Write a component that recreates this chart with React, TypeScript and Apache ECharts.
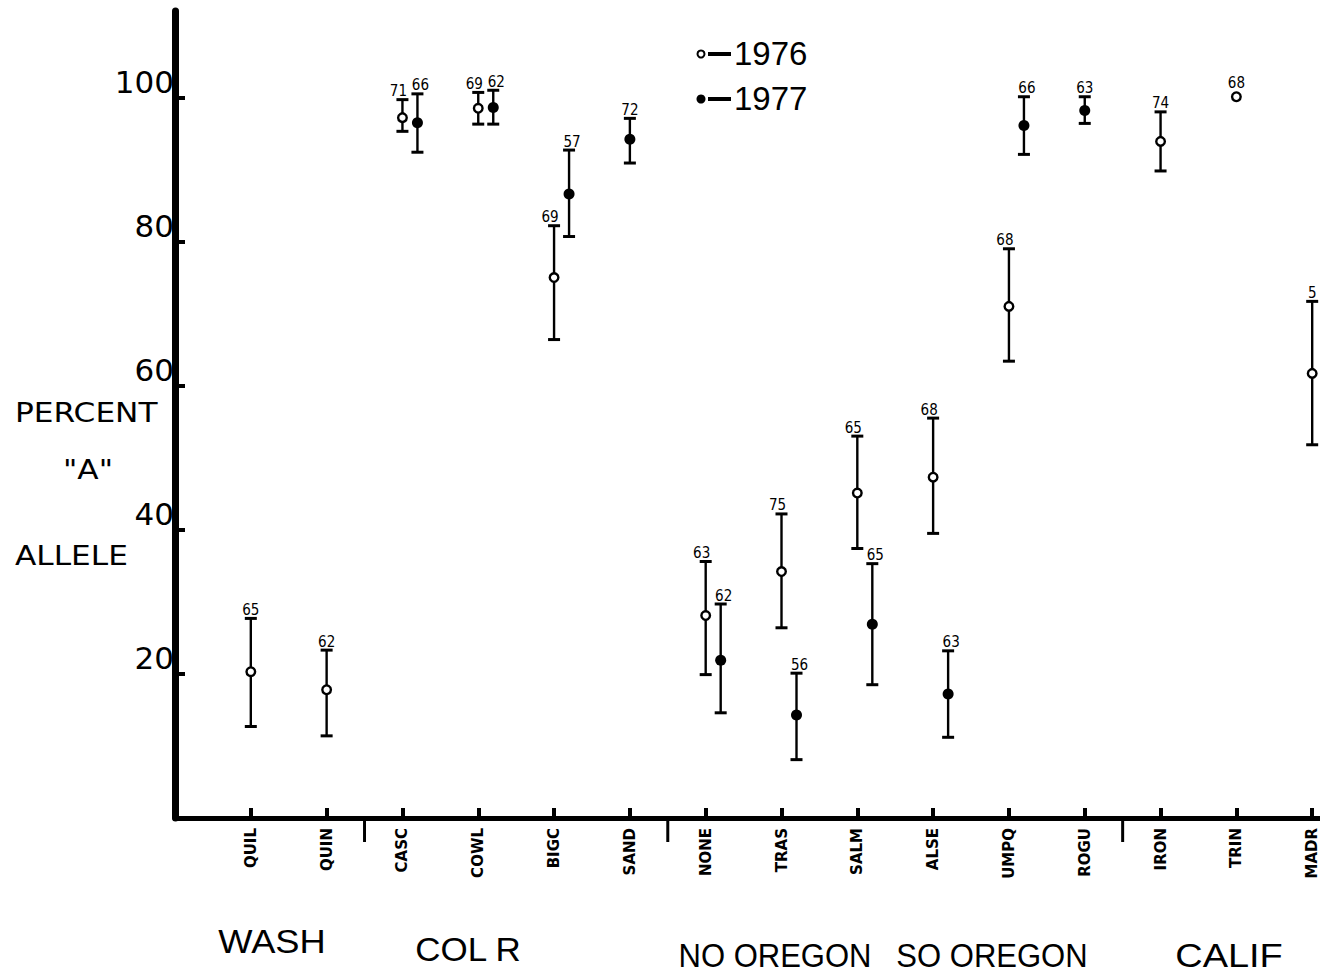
import { useEffect, useRef } from "react";
import * as echarts from "echarts";

const categories = ["QUIL", "QUIN", "CASC", "COWL", "BIGC", "SAND", "NONE", "TRAS", "SALM", "ALSE", "UMPQ", "ROGU", "IRON", "TRIN", "MADR"];
const mean1976 = [20.3, 17.8, 97.2, 98.5, 75.0, null, 28.1, 34.2, 45.1, 47.3, 71.0, null, 93.9, 100.1, 61.7];
const low1976 = [12.7, 11.4, 95.3, 96.3, 66.4, null, 19.9, 26.4, 37.4, 39.5, 63.4, null, 89.8, null, 51.8];
const high1976 = [27.7, 23.3, 99.7, 100.7, 82.2, null, 35.6, 42.2, 53.0, 55.5, 79.0, null, 98.0, null, 71.7];
const n1976 = ["65", "62", "71", "69", "69", "", "63", "75", "65", "68", "68", "", "74", "68", "5"];
const mean1977 = [null, null, 96.5, 98.6, 86.6, 94.2, 21.9, 14.3, 26.9, 17.2, 96.1, 98.2, null, null, null];
const low1977 = [null, null, 92.4, 96.3, 80.7, 90.9, 14.6, 8.1, 18.5, 11.2, 92.1, 96.4, null, null, null];
const high1977 = [null, null, 100.5, 101.0, 92.7, 97.1, 29.7, 20.1, 35.3, 23.2, 100.1, 100.1, null, null, null];
const n1977 = ["", "", "66", "62", "57", "72", "62", "56", "65", "63", "66", "63", "", "", ""];
const yTicks = [20, 40, 60, 80, 100];
const groupBreaksAfter = ["QUIN", "SAND", "ROGU"];
const groupLabels = ["WASH", "COL R", "NO OREGON", "SO OREGON", "CALIF"];
const legendYears = ["1976", "1977"];
const yTitle = ["PERCENT", "\"A\"", "ALLELE"];

// layout only
const groupLabelPos = [
  [272, 942, 1.1],
  [468, 949, 1.06],
  [775, 956, 0.94],
  [992, 956, 0.94],
  [1229, 956, 1.15],
];
const yTitlePos = [
  [15, 413, "left"],
  [88, 470, "center"],
  [15, 556, "left"],
];

type Item = { idx: number; mean: number; lo: number | null; hi: number | null; n: string; both: boolean };

function buildItems(mean: (number | null)[], lo: (number | null)[], hi: (number | null)[], n: string[], other: (number | null)[]): Item[] {
  const out: Item[] = [];
  categories.forEach((_, i) => {
    const m = mean[i];
    if (m == null) return;
    out.push({ idx: i + 1, mean: m, lo: lo[i], hi: hi[i], n: n[i], both: other[i] != null });
  });
  return out;
}

const FONT_NUM = "15px 'Liberation Sans Narrow', 'DejaVu Sans Condensed', 'Liberation Sans', sans-serif";

function makeRender(items: Item[], filled: boolean, offset: number, labelShift: number) {
  return (params: any, api: any) => {
    const it = items[params.dataIndex];
    const p = api.coord([it.idx, it.mean]);
    const x = p[0] + (it.both ? offset : 0);
    const children: any[] = [];
    let top = p[1] - (filled ? 6 : 5);
    if (it.lo != null && it.hi != null) {
      const yl = api.coord([it.idx, it.lo])[1];
      const yh = api.coord([it.idx, it.hi])[1];
      top = yh;
      children.push({ type: "line", shape: { x1: x, y1: yh, x2: x, y2: yl }, style: { stroke: "#000", lineWidth: 2.4 } });
      children.push({ type: "line", shape: { x1: x - 6, y1: yh, x2: x + 6, y2: yh }, style: { stroke: "#000", lineWidth: 3 } });
      children.push({ type: "line", shape: { x1: x - 6, y1: yl, x2: x + 6, y2: yl }, style: { stroke: "#000", lineWidth: 3 } });
    }
    children.push({
      type: "circle",
      shape: { cx: x, cy: p[1], r: filled ? 5.5 : 4.3 },
      style: filled ? { fill: "#000" } : { fill: "#fff", stroke: "#000", lineWidth: 2.4 },
    });
    if (it.n) {
      children.push({
        type: "text",
        x: x + (it.both ? labelShift : 0),
        y: top - 1,
        style: { text: it.n, font: FONT_NUM, fill: "#000", align: "center", verticalAlign: "bottom" },
      });
    }
    return { type: "group", children };
  };
}

export default function App() {
  const ref = useRef<HTMLDivElement>(null);
  useEffect(() => {
    if (!ref.current) return;
    const chart = echarts.init(ref.current, null, { renderer: "svg" });
    const items76 = buildItems(mean1976, low1976, high1976, n1976, mean1977);
    const items77 = buildItems(mean1977, low1977, high1977, n1977, mean1976);
    const axisData = ["", ...categories, ""];
    const breaks = groupBreaksAfter.map((c) => [categories.indexOf(c) + 1, 0]);

    const graphic: any[] = [];
    legendYears.forEach((yr, k) => {
      const cy = k === 0 ? 53 : 98;
      graphic.push({
        type: "circle",
        shape: { cx: 701, cy: cy + 1, r: k === 0 ? 3.5 : 4.5 },
        style: k === 0 ? { fill: "#fff", stroke: "#000", lineWidth: 2 } : { fill: "#000" },
      });
      graphic.push({ type: "line", shape: { x1: 708, y1: cy + 1, x2: 731, y2: cy + 1 }, style: { stroke: "#000", lineWidth: 4 } });
      graphic.push({
        type: "text",
        x: 734,
        y: cy,
        style: { text: yr, font: "33px 'Liberation Sans', sans-serif", fill: "#000", align: "left", verticalAlign: "middle" },
      });
    });
    yTitle.forEach((t, k) => {
      const [x, y, al] = yTitlePos[k] as any;
      graphic.push({
        type: "text",
        x,
        y,
        scaleX: 1.2,
        style: { text: t, font: "26px 'DejaVu Sans', sans-serif", fill: "#000", align: al, verticalAlign: "middle" },
      });
    });
    groupLabels.forEach((t, k) => {
      const [x, y, sx] = groupLabelPos[k];
      graphic.push({
        type: "text",
        x,
        y,
        scaleX: sx,
        style: { text: t, font: "33px 'Liberation Sans', sans-serif", fill: "#000", align: "center", verticalAlign: "middle" },
      });
    });

    chart.setOption({
      animation: false,
      backgroundColor: "#fff",
      grid: { left: 175, right: 12, top: 11, bottom: 160, containLabel: false },
      xAxis: {
        type: "category",
        data: axisData,
        boundaryGap: false,
        axisLine: { lineStyle: { color: "#000", width: 5 } },
        axisTick: { show: true, inside: true, length: 10, lineStyle: { color: "#000", width: 4 } },
        axisLabel: {
          rotate: 90,
          margin: 10,
          color: "#000",
          fontSize: 15,
          fontWeight: "bold",
          fontFamily: "'DejaVu Sans', sans-serif",
        },
        splitLine: { show: false },
      },
      yAxis: {
        type: "value",
        min: 0,
        max: 112,
        interval: 20,
        axisLine: { show: true, lineStyle: { color: "#000", width: 7 } },
        axisTick: { show: true, inside: true, length: 10, customValues: yTicks, lineStyle: { color: "#000", width: 4 } },
        axisLabel: {
          customValues: yTicks,
          margin: 1,
          color: "#000",
          fontSize: 31,
          fontFamily: "'DejaVu Sans', sans-serif",
          verticalAlign: "bottom",
          formatter: (v: number) => (yTicks.includes(v) ? String(v) : ""),
        },
        splitLine: { show: false },
      },
      graphic,
      series: [
        {
          type: "custom",
          name: "breaks",
          clip: false,
          silent: true,
          data: breaks,
          renderItem: (params: any, api: any) => {
            const i = api.value(0);
            const p1 = api.coord([i, 0]);
            const p2 = api.coord([i + 1, 0]);
            const x = (p1[0] + p2[0]) / 2;
            return { type: "line", shape: { x1: x, y1: p1[1], x2: x, y2: p1[1] + 24 }, style: { stroke: "#000", lineWidth: 3 } };
          },
        },
        {
          type: "custom",
          name: "1976",
          clip: false,
          data: items76.map((it) => [it.idx, it.mean]),
          renderItem: makeRender(items76, false, 0, -4),
        },
        {
          type: "custom",
          name: "1977",
          clip: false,
          data: items77.map((it) => [it.idx, it.mean]),
          renderItem: makeRender(items77, true, 15, 3),
        },
      ],
    });
    return () => chart.dispose();
  }, []);
  return (
    <div style={{ position: "fixed", left: 0, top: 0, width: 1320, height: 978, overflow: "hidden", background: "#fff" }}>
      <div ref={ref} style={{ width: 1400, height: 978 }} />
    </div>
  );
}
